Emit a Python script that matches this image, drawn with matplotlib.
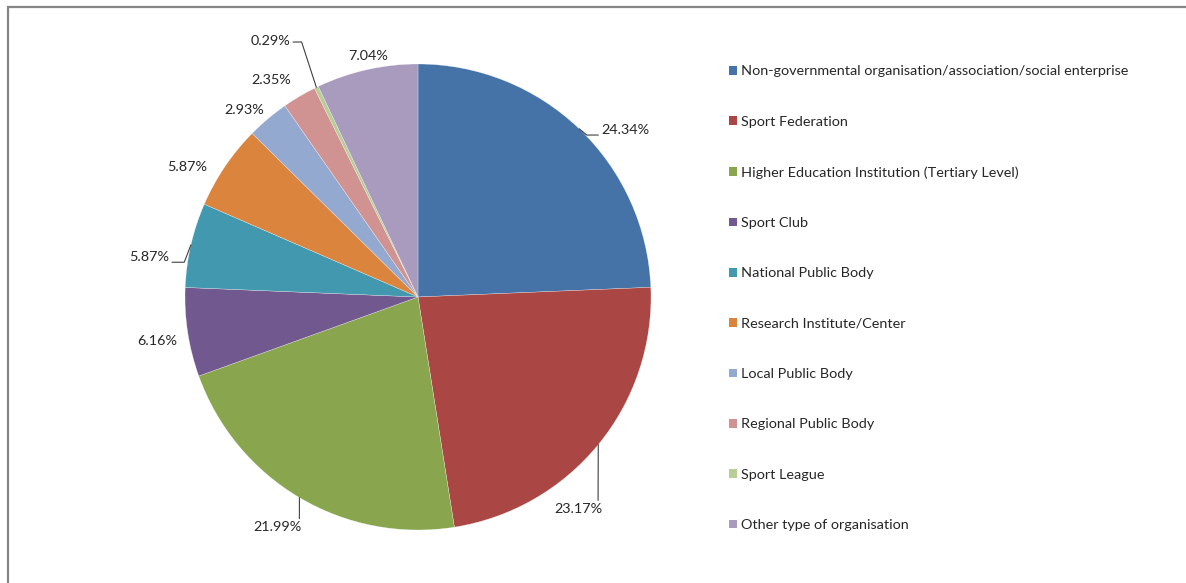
"""
Pie chart of participant organisation types, redrawn from the survey summary.

    python plot.py
"""
from __future__ import annotations

import matplotlib

matplotlib.use("Agg")
import matplotlib.pyplot as plt
from matplotlib.patches import Patch, Rectangle
import numpy as np

CATEGORIES = [
    "Non-governmental organisation/association/social enterprise",
    "Sport Federation",
    "Higher Education Institution (Tertiary Level)",
    "Sport Club",
    "National Public Body",
    "Research Institute/Center",
    "Local Public Body",
    "Regional Public Body",
    "Sport League",
    "Other type of organisation",
]
SHARES = [24.34, 23.17, 21.99, 6.16, 5.87, 5.87, 2.93, 2.35, 0.29, 7.04]
COLORS = [
    "#4572A7", "#AA4643", "#89A54E", "#71588F", "#4198AF",
    "#DB843D", "#93A9CF", "#D19392", "#B9CD96", "#A99BBD",
]

# label placement relative to the slice edge (points), plus leader setup
LABEL_OFFSETS = [(33, -1), (-14, -46.5), (-16, -21.5), (-22, -6), (-30, -9),
                 (-27, 0), (-17, 6), (-20, 12), (-33, 33.5), (1, 10)]
LEADERS = {
    0: dict(relpos=(0.0, 0.1), connectionstyle="angle,angleA=0,angleB=-40,rad=0"),
    1: dict(relpos=(0.9, 1.0), connectionstyle="arc3"),
    2: dict(relpos=(0.96, 1.0), connectionstyle="arc3"),
    4: dict(relpos=(1.0, 0.1), connectionstyle="angle,angleA=0,angleB=69,rad=0"),
    8: dict(relpos=(1.0, 0.4), connectionstyle="angle,angleA=0,angleB=-72,rad=0"),
}

FONT = "Lato"
TEXT_COLOR = "#262626"
FONT_SIZE = 10.4


def draw_pie(fig):
    # square axes holding exactly the unit pie
    w, h = fig.get_size_inches() * fig.dpi
    cx, cy, r = 418, 297, 233
    ax = fig.add_axes([(cx - r) / w, (h - cy - r) / h, 2 * r / w, 2 * r / h])
    wedges, _ = ax.pie(SHARES, colors=COLORS, startangle=90, counterclock=False,
                       radius=1, wedgeprops=dict(linewidth=0.3, edgecolor="#ffffff99"))
    ax.set_xlim(-1, 1)
    ax.set_ylim(-1, 1)
    ax.set_aspect("equal")
    ax.axis("off")

    for i, (wedge, share) in enumerate(zip(wedges, SHARES)):
        mid = np.deg2rad((wedge.theta1 + wedge.theta2) / 2)
        xy = (np.cos(mid), np.sin(mid))
        arrow = None
        if i in LEADERS:
            arrow = dict(arrowstyle="-", color="#404040", lw=0.8,
                         shrinkA=0, shrinkB=0, **LEADERS[i])
        ax.annotate(f"{share:.2f}%", xy=xy, xytext=LABEL_OFFSETS[i],
                    textcoords="offset points", ha="center", va="center",
                    fontsize=FONT_SIZE, family=FONT, color=TEXT_COLOR,
                    arrowprops=arrow, annotation_clip=False)


def draw_legend(fig):
    handles = [Patch(facecolor=c, edgecolor="none") for c in COLORS]
    fig.legend(handles, CATEGORIES, loc="upper left",
               bbox_to_anchor=(729 / 1186, 1 - 65.4 / 583), frameon=False,
               handlelength=0.55, handleheight=0.55, handletextpad=0.3,
               labelspacing=2.656, borderaxespad=0, borderpad=0,
               prop=dict(family=FONT, size=FONT_SIZE), labelcolor=TEXT_COLOR)


def main() -> None:
    fig = plt.figure(figsize=(11.86, 5.83), dpi=100)
    fig.patch.set_facecolor("white")
    # chart area border, only top and left edges fall inside the picture
    fig.add_artist(Rectangle((7.5 / 1186, -0.1), 1.2, 1.1 - 7 / 583,
                             transform=fig.transFigure, fill=False,
                             edgecolor="#868686", lw=1.6, clip_on=False))
    draw_pie(fig)
    draw_legend(fig)
    fig.savefig("out.png", dpi=100)
    plt.close(fig)


if __name__ == "__main__":
    main()
